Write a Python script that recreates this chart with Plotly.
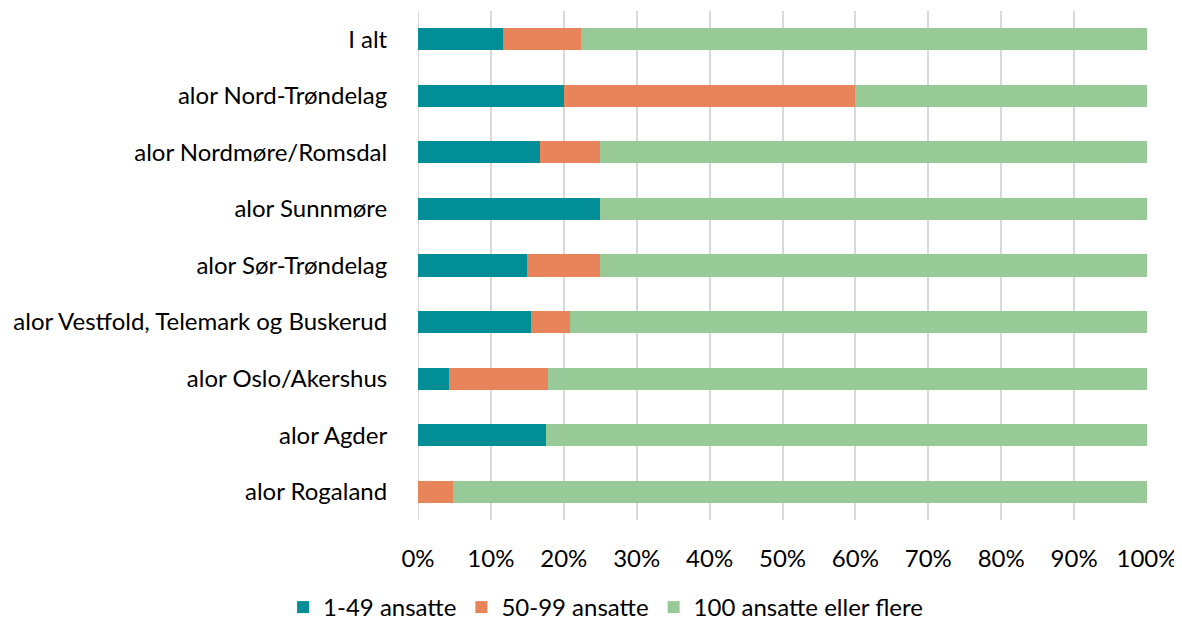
import plotly.graph_objects as go

categories = ["I alt", "alor Nord-Trøndelag", "alor Nordmøre/Romsdal", "alor Sunnmøre",
              "alor Sør-Trøndelag", "alor Vestfold, Telemark og Buskerud",
              "alor Oslo/Akershus", "alor Agder", "alor Rogaland"]
small = [11.6, 20.0, 16.7, 25.0, 15.0, 15.5, 4.3, 17.6, 0.0]
medium = [10.7, 40.0, 8.3, 0.0, 10.0, 5.3, 13.6, 0.0, 4.8]
large = [77.7, 40.0, 75.0, 75.0, 75.0, 79.2, 82.1, 82.4, 95.2]
series_names = ["1-49 ansatte", "50-99 ansatte", "100 ansatte eller flere"]
colors = ["#028E96", "#E8845A", "#97CA97"]

fig = go.Figure()
for name, vals, col in zip(series_names, [small, medium, large], colors):
    fig.add_trace(go.Bar(
        y=categories, x=vals, name=name, orientation="h",
        marker=dict(color=col, line=dict(width=0)),
        width=0.39,
    ))

fig.update_layout(
    barmode="stack",
    width=1174, height=622,
    margin=dict(l=410, r=35, t=3, b=110, autoexpand=False),
    plot_bgcolor="white", paper_bgcolor="white",
    font=dict(family="Lato, Carlito, sans-serif", color="#000000"),
    legend=dict(orientation="h", xref="container", yref="container",
                x=0.509, xanchor="center", y=0.0, yanchor="bottom",
                font=dict(size=24), traceorder="normal", itemwidth=30,
                tracegroupgap=0),
    xaxis=dict(range=[0, 100], tickvals=list(range(0, 101, 10)),
               ticktext=[f"{v}%" for v in range(0, 101, 10)],
               showgrid=True, gridcolor="#D9D9D9", gridwidth=2,
               zeroline=False, ticks="outside", ticklen=17, tickcolor="rgba(0,0,0,0)",
               tickfont=dict(size=24), showline=False, automargin=False),
    yaxis=dict(range=[8.5, -0.5], ticks="outside", ticklen=25,
               tickcolor="rgba(0,0,0,0)", tickfont=dict(size=24),
               showgrid=False, showline=False, automargin=False),
)
fig.add_shape(type="line", xref="x", yref="paper", x0=0, x1=0, y0=0, y1=1,
              line=dict(color="#D9D9D9", width=2), layer="below")
fig.write_html("out.html")
